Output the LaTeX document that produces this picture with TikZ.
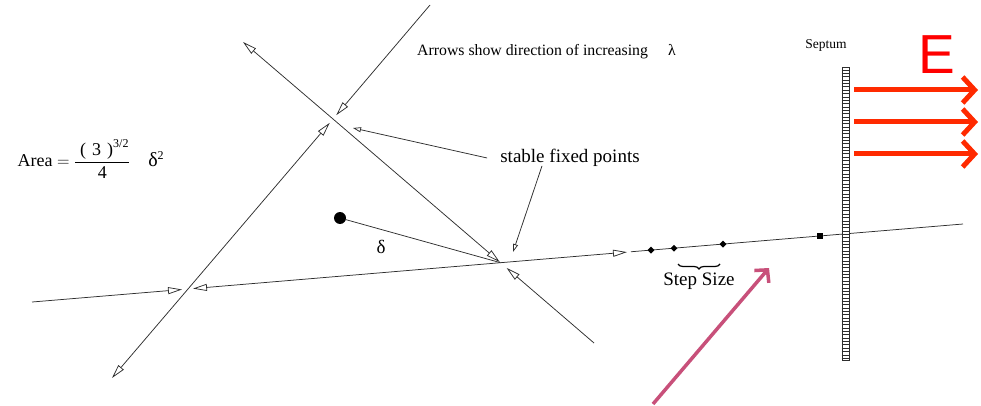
\documentclass[tikz,border=0pt]{standalone}
\usepackage{fontspec}
\setmainfont{Liberation Serif}
\newfontfamily\sansfont{Liberation Sans}
\definecolor{OrbitGray}{HTML}{2E2E2E}
\definecolor{FieldRed}{HTML}{FF2A00}
\definecolor{LetterRed}{HTML}{FF0000}
\definecolor{PointerPink}{HTML}{C8507A}
\usetikzlibrary{arrows.meta,positioning,calc,shapes.geometric,decorations.pathreplacing}
\tikzset{
  orbit/.style={draw=OrbitGray, line width=0.75pt},
  flow/.style={orbit, -{Triangle[open,length=14pt,width=7pt]}},
  pointer/.style={orbit, -{Triangle[open,length=8pt,width=5pt]}},
  stepdot/.style={diamond, fill=black, inner sep=0pt, minimum size=7pt},
  stepsquare/.style={rectangle, fill=black, inner sep=0pt, minimum size=5.5pt},
  field/.style={FieldRed, line width=5pt, -{Straight Barb[length=12pt,width=26pt]}},
  note/.style={font=\fontsize{19}{22}\selectfont, inner sep=1pt},
  smallnote/.style={font=\fontsize{15.8}{18}\selectfont, inner sep=1pt}
}
\begin{document}
\begin{tikzpicture}[x=1pt, y=-1pt]
  \useasboundingbox (0,0) rectangle (981,406);
  \coordinate (Atop) at (243,42);
  \coordinate (Abot) at (594,343);
  \coordinate (Btop) at (430,5);
  \coordinate (Bbot) at (112,378);
  \coordinate (Cl) at (32,302);
  \coordinate (Cr) at (963,224);
  \coordinate (X1) at (188,289);
  \coordinate (X2) at (333,119);
  \coordinate (P) at (500.5,262.7);
  \coordinate (Cm) at (627,252.1);
  \draw[flow] (X2) -- (Atop);
  \draw[flow, shorten >=1pt] (X2) -- (P);
  \draw[flow, shorten >=8pt] (Abot) -- (P);
  \draw[flow] (X1) -- (Bbot);
  \draw[flow, shorten >=5pt] (X1) -- (X2);
  \draw[flow, shorten >=5pt] (Btop) -- (X2);
  \draw[flow, shorten >=6pt] (Cl) -- (X1);
  \draw[flow, shorten >=5pt] (P) -- (X1);
  \draw[flow] (P) -- (Cm);
  \draw[orbit, shorten <=4pt] (Cm) -- (Cr);
  \node[circle, fill=black, minimum size=12pt, inner sep=0pt] (charge) at (340,218) {};
  \draw[orbit] (charge) -- (P);
  \node[note] (dlabel) at (381,247) {δ};
  \node[note] (sfp) at (570,158) {stable fixed points};
  \coordinate (tip1) at (353,128);
  \coordinate (tip2) at (513,252);
  \draw[pointer] ([xshift=-12pt]sfp.west) -- (tip1);
  \draw[pointer] ([xshift=-28pt,yshift=2pt]sfp.south) -- (tip2);
  \node[smallnote, anchor=west] (hint) at (416,52) {Arrows show direction of increasing\hspace{20pt}λ};
  \node[anchor=base west, font=\fontsize{18}{20}\selectfont] (area) at (14,167)
    {Area $=\displaystyle\frac{\;\mbox{(\,\,3\,\,)}^{\mbox{\fontsize{12}{12}\selectfont 3/2}}}{\mbox{4}}\quad$\fontsize{20}{22}\selectfont δ$^{\mbox{\fontsize{12}{12}\selectfont 2}}$};
  \node[stepdot] (s1) at (651,250.1) {};
  \node[stepdot] (s2) at (674,248.2) {};
  \node[stepdot] (s3) at (723,244.1) {};
  \node[stepsquare] (s4) at (820,236) {};
  \coordinate (bra) at (678,264);
  \coordinate (brb) at (720,264);
  \draw[decorate, decoration={brace, mirror, amplitude=5pt}, line width=1.2pt] (bra) -- (brb);
  \node[note, below=8pt of $(bra)!0.5!(brb)$] (stepsize) {Step Size};
  \node[draw=OrbitGray, fill=white, line width=0.75pt, minimum width=7pt, minimum height=293pt, inner sep=0pt] (septum) at (845.5,213.5) {};
  \foreach \k in {1,...,87}
    \draw[OrbitGray, line width=0.45pt] ([yshift=-\k*3.35pt]septum.north west) -- ++(7,0);
  \node[font=\fontsize{13.5}{15}\selectfont] (septlabel) at (826,45) {Septum};
  \node[font=\sansfont\fontsize{55}{56}\selectfont, text=LetterRed] (efield) at (937,55) {E};
  \foreach \y/\n in {90/1,122/2,154/3} {
    \coordinate (fs\n) at (854,\y);
    \coordinate (fe\n) at (978,\y);
    \draw[field] (fs\n) -- (fe\n);
  }
  \coordinate (pinkfrom) at (653,404);
  \coordinate (pinkto) at (769,268);
  \draw[PointerPink, line width=3.5pt, -{Straight Barb[length=9pt,width=19pt]}] (pinkfrom) -- (pinkto);
\end{tikzpicture}
\end{document}
